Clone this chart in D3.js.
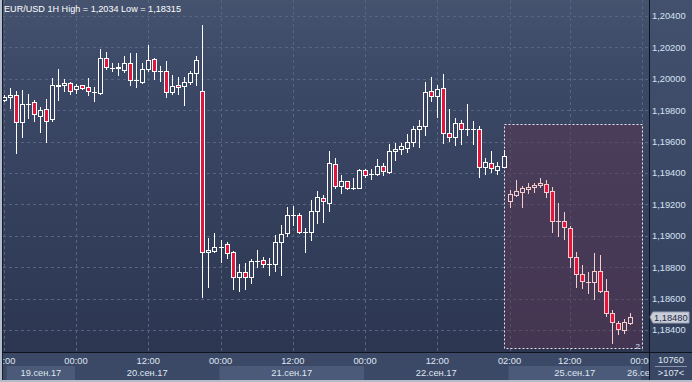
<!DOCTYPE html>
<html>
<head>
<meta charset="utf-8">
<script src="https://cdn.jsdelivr.net/npm/d3@7"></script>
<style>
  body { margin: 0; background: #2e3954; }
  svg { display: block; font-family: "Liberation Sans", Arial, sans-serif; }
</style>
</head>
<body>
<svg id="chart"></svg>
<script>
const W = 692, H = 382;

// hourly candles, first one is 19.09 12:00 (index -12), index 0 = 20.09 00:00
const firstIndex = -12;
const open = [1.19865,1.19882,1.19895,1.19723,1.19838,1.19852,1.19765,1.19806,1.19742,1.19957,1.19959,1.19971,
  1.19933,1.19959,1.19946,1.19916,1.19912,1.20131,1.20071,1.20068,1.20056,1.20099,1.19991,1.19982,
  1.20061,1.20124,1.20048,1.20048,1.19914,1.19959,1.19952,1.19978,1.20035,1.19921,1.18895,1.18905,
  1.18931,1.18946,1.18895,1.18740,1.18768,1.18740,1.18840,1.18846,1.18818,1.18818,1.18959,1.19016,
  1.19131,1.19131,1.19022,1.19022,1.19160,1.19239,1.19211,1.19456,1.19319,1.19347,1.19303,1.19306,
  1.19419,1.19396,1.19396,1.19443,1.19408,1.19540,1.19555,1.19561,1.19596,1.19678,1.19698,1.19921,
  1.19893,1.19940,1.19653,1.19628,1.19717,1.19678,1.19678,1.19678,1.19440,1.19462,1.19422,1.19441,
  1.19224,1.19262,1.19281,1.19300,1.19313,1.19324,1.19328,1.19285,1.19092,1.19092,1.19048,1.18863,
  1.18755,1.18708,1.18708,1.18778,1.18650,1.18510,1.18443,1.18402,1.18447];
const high = [1.19897,1.19940,1.19922,1.19929,1.19903,1.19865,1.19819,1.19871,1.20003,1.20061,1.19997,1.19982,
  1.19967,1.19963,1.20005,1.19950,1.20190,1.20169,1.20103,1.20099,1.20145,1.20163,1.20163,1.20099,
  1.20215,1.20133,1.20082,1.20112,1.20024,1.20010,1.20014,1.20052,1.20145,1.20340,1.18984,1.19016,
  1.18973,1.18959,1.18905,1.18818,1.18825,1.18850,1.18910,1.18863,1.18857,1.19005,1.19069,1.19185,
  1.19190,1.19147,1.19048,1.19228,1.19285,1.19260,1.19540,1.19496,1.19387,1.19351,1.19366,1.19424,
  1.19428,1.19425,1.19489,1.19462,1.19585,1.19589,1.19589,1.19649,1.19701,1.19738,1.19980,1.20012,
  1.19961,1.20031,1.19806,1.19749,1.19738,1.19838,1.19731,1.19699,1.19494,1.19540,1.19468,1.19547,
  1.19292,1.19356,1.19319,1.19334,1.19334,1.19368,1.19356,1.19309,1.19207,1.19154,1.19064,1.18899,
  1.18814,1.18768,1.18889,1.18878,1.18725,1.18527,1.18457,1.18468,1.18506];
const low = [1.19859,1.19816,1.19529,1.19631,1.19752,1.19733,1.19663,1.19599,1.19733,1.19865,1.19922,1.19903,
  1.19912,1.19933,1.19899,1.19861,1.19903,1.20061,1.20052,1.20024,1.20045,1.19963,1.19950,1.19971,
  1.20052,1.20001,1.19988,1.19886,1.19905,1.19905,1.19835,1.19967,1.19961,1.18608,1.18676,1.18895,
  1.18835,1.18857,1.18659,1.18650,1.18659,1.18697,1.18799,1.18803,1.18750,1.18778,1.18750,1.18999,
  1.19069,1.19016,1.18899,1.18973,1.19080,1.19090,1.19160,1.19305,1.19275,1.19300,1.19300,1.19303,
  1.19373,1.19362,1.19387,1.19387,1.19398,1.19483,1.19521,1.19534,1.19574,1.19568,1.19644,1.19861,
  1.19759,1.19589,1.19606,1.19578,1.19585,1.19642,1.19585,1.19373,1.19394,1.19406,1.19394,1.19440,
  1.19185,1.19254,1.19185,1.19275,1.19281,1.19313,1.19249,1.19026,1.19001,1.18978,1.18799,1.18676,
  1.18666,1.18638,1.18599,1.18644,1.18491,1.18315,1.18373,1.18383,1.18440];
const close = [1.19887,1.19895,1.19723,1.19838,1.19842,1.19774,1.19801,1.19733,1.19959,1.19959,1.19971,1.19924,
  1.19952,1.19940,1.19921,1.19916,1.20131,1.20075,1.20071,1.20073,1.20099,1.19991,1.19991,1.20061,
  1.20118,1.20048,1.20048,1.19914,1.19952,1.19946,1.19980,1.20035,1.20118,1.18895,1.18910,1.18927,
  1.18931,1.18889,1.18740,1.18768,1.18740,1.18838,1.18840,1.18818,1.18818,1.18959,1.19010,1.19131,
  1.19131,1.19022,1.19022,1.19156,1.19245,1.19219,1.19462,1.19320,1.19347,1.19303,1.19303,1.19419,
  1.19389,1.19396,1.19443,1.19411,1.19540,1.19553,1.19572,1.19598,1.19678,1.19698,1.19914,1.19893,
  1.19933,1.19653,1.19631,1.19717,1.19678,1.19678,1.19678,1.19440,1.19468,1.19429,1.19443,1.19506,
  1.19264,1.19284,1.19303,1.19311,1.19322,1.19336,1.19277,1.19092,1.19092,1.19054,1.18863,1.18755,
  1.18710,1.18708,1.18778,1.18650,1.18506,1.18449,1.18404,1.18449,1.18480];

const priceTicks = [1.184, 1.186, 1.188, 1.190, 1.192, 1.194, 1.196, 1.198, 1.200, 1.202, 1.204];
const timeTickIdx = [-12, 0, 12, 24, 36, 48, 60, 72, 82, 94];
const timeTickLabels = ["12:00", "00:00", "12:00", "00:00", "12:00", "00:00", "12:00", "02:00", "12:00", "00:00"];
const dayStartIdx = [-11.5, 0, 24, 48, 72, 94];
const dayLabels = ["19.сен.17", "20.сен.17", "21.сен.17", "22.сен.17", "25.сен.17", "26.сен.17"];
const selFrom = 71, selTo = 94, selHigh = 1.19709, selLow = 1.18285;
const lastPrice = 1.18480;
const title = "EUR/USD 1H High = 1,2034 Low = 1,18315";
const cornerTop = "10760", cornerBottom = ">107<";

const plot = {left: 3, right: 649, top: 0, bottom: 352};

const x = d3.scaleLinear().domain([0, 94]).range([76, 642]);
const y = d3.scaleLinear().domain([1.184, 1.204]).range([330, 16]);
const fmt = v => d3.format(".5f")(v).replace(".", ",");

const svg = d3.select("#chart").attr("width", W).attr("height", H);
const defs = svg.append("defs");

const g1 = defs.append("linearGradient").attr("id", "bg").attr("x1", 0).attr("x2", 0).attr("y1", 0).attr("y2", 1);
g1.append("stop").attr("offset", 0).attr("stop-color", "#45536f");
g1.append("stop").attr("offset", 0.2).attr("stop-color", "#3c4967");
g1.append("stop").attr("offset", 1).attr("stop-color", "#2c3651");

const g2 = defs.append("linearGradient").attr("id", "axbg").attr("x1", 0).attr("x2", 0).attr("y1", 0).attr("y2", 1);
g2.append("stop").attr("offset", 0).attr("stop-color", "#43516e");
g2.append("stop").attr("offset", 1).attr("stop-color", "#33405c");

defs.append("clipPath").attr("id", "plotclip").append("rect")
  .attr("x", plot.left).attr("y", plot.top)
  .attr("width", plot.right - plot.left).attr("height", plot.bottom - plot.top);
defs.append("clipPath").attr("id", "axclip").append("rect")
  .attr("x", plot.left).attr("y", plot.bottom)
  .attr("width", plot.right - plot.left).attr("height", 30);

// frame
svg.append("rect").attr("width", W).attr("height", H).attr("fill", "#b4bcc9");
svg.append("rect").attr("x", 2).attr("y", 0).attr("width", W - 2).attr("height", 380).attr("fill", "#161d2c");

// plot background
svg.append("rect").attr("x", plot.left).attr("y", plot.top)
  .attr("width", plot.right - plot.left).attr("height", plot.bottom - plot.top)
  .attr("fill", "url(#bg)");

// right axis background
svg.append("rect").attr("x", plot.right + 1).attr("y", 0)
  .attr("width", W - plot.right - 1).attr("height", plot.bottom)
  .attr("fill", "url(#axbg)");

// bottom axis background
svg.append("rect").attr("x", plot.left).attr("y", plot.bottom + 1)
  .attr("width", plot.right - plot.left).attr("height", 380 - plot.bottom - 1)
  .attr("fill", "#3c4966");
svg.append("rect").attr("x", plot.right + 1).attr("y", plot.bottom + 1)
  .attr("width", W - plot.right - 1).attr("height", 380 - plot.bottom - 1)
  .attr("fill", "#3a4764");

const P = svg.append("g").attr("clip-path", "url(#plotclip)");

// grid
P.selectAll(".hg").data(priceTicks).enter().append("line")
  .attr("x1", plot.left).attr("x2", plot.right)
  .attr("y1", d => Math.round(y(d)) + 0.5).attr("y2", d => Math.round(y(d)) + 0.5)
  .attr("stroke", "#586582").attr("stroke-dasharray", "3,3");
P.selectAll(".vg").data(timeTickIdx).enter().append("line")
  .attr("x1", d => Math.round(x(d)) + 0.5).attr("x2", d => Math.round(x(d)) + 0.5)
  .attr("y1", plot.top).attr("y2", plot.bottom)
  .attr("stroke", "#586582").attr("stroke-dasharray", "3,3");

// selection box
P.append("rect")
  .attr("x", Math.round(x(selFrom)) + 0.5).attr("y", Math.round(y(selHigh)) + 0.5)
  .attr("width", Math.round(x(selTo)) - Math.round(x(selFrom)))
  .attr("height", Math.round(y(selLow)) - Math.round(y(selHigh)))
  .attr("fill", "#5b3652").attr("fill-opacity", 0.5)
  .attr("stroke", "#e8e8f0").attr("stroke-dasharray", "2,2");
P.append("text").attr("x", Math.round(x(selTo)) - 2).attr("y", Math.round(y(selLow)) + 1)
  .attr("text-anchor", "end").attr("font-size", 8).attr("fill", "#cfe0ff").text("2");

// candles
const candles = open.map((o, j) => ({i: firstIndex + j, o: o, h: high[j], l: low[j], c: close[j]}));
const cg = P.selectAll(".candle").data(candles).enter().append("g");
cg.each(function(d) {
  const g = d3.select(this);
  const cx = Math.round(x(d.i));
  const sel = d.i > selFrom;
  const lineCol = sel ? "#f6cccc" : "#ffffff";
  const up = d.c >= d.o;
  const yt = Math.round(y(Math.max(d.o, d.c)));
  const yb = Math.round(y(Math.min(d.o, d.c)));
  g.append("line").attr("x1", cx + 0.5).attr("x2", cx + 0.5)
    .attr("y1", Math.round(y(d.h))).attr("y2", Math.round(y(d.l)) + 1)
    .attr("stroke", lineCol);
  if (yb - yt < 1) {
    g.append("line").attr("x1", cx - 2).attr("x2", cx + 3)
      .attr("y1", yt + 0.5).attr("y2", yt + 0.5).attr("stroke", lineCol);
  } else {
    g.append("rect").attr("x", cx - 1.5).attr("y", yt + 0.5)
      .attr("width", 4).attr("height", yb - yt)
      .attr("fill", up ? (sel ? "#4b3b56" : "#36425f") : "#e0163c")
      .attr("stroke", lineCol);
  }
});

// borders
svg.append("line").attr("x1", plot.left).attr("x2", W).attr("y1", plot.bottom + 0.5).attr("y2", plot.bottom + 0.5)
  .attr("stroke", "#0e131d");
svg.append("line").attr("x1", plot.right + 0.5).attr("x2", plot.right + 0.5).attr("y1", 0).attr("y2", 380)
  .attr("stroke", "#0e131d");

// title
svg.append("text").attr("x", 4).attr("y", 12).attr("font-size", 9.3)
  .attr("textLength", 177).attr("lengthAdjust", "spacingAndGlyphs")
  .attr("fill", "#ffffff").text(title);

// right axis labels
svg.selectAll(".yl").data(priceTicks).enter().append("text")
  .attr("x", 652).attr("y", d => y(d) + 3.4)
  .attr("font-size", 9.3).attr("fill", "#d6e2f4").text(d => fmt(d));

// last price marker
const ly = Math.round(y(lastPrice));
svg.append("path")
  .attr("d", `M650,${ly} L653,${ly - 5} L689,${ly - 5} L689,${ly + 6} L653,${ly + 6} Z`)
  .attr("fill", "#c9ced8").attr("stroke", "#9aa3b3");
svg.append("text").attr("x", 654).attr("y", ly + 4)
  .attr("font-size", 9.3).attr("fill", "#1f2a45").text(fmt(lastPrice));

// bottom axis
const A = svg.append("g").attr("clip-path", "url(#axclip)");
const dayEnds = dayStartIdx.slice(1).map(d => x(d) - 1).concat([x(94) + 12]);
dayStartIdx.forEach((d, k) => {
  const x0 = k === 0 ? x(d) : x(d) - 1;
  if (k % 2 === 0) {
    A.append("rect").attr("x", x0).attr("y", 366).attr("width", dayEnds[k] - x0).attr("height", 14)
      .attr("fill", "#4b5a78");
  }
  A.append("text").attr("x", (x0 + dayEnds[k]) / 2).attr("y", 375.5)
    .attr("text-anchor", "middle").attr("font-size", 9.3).attr("fill", "#dfe6f2").text(dayLabels[k]);
});
A.selectAll(".xl").data(timeTickIdx).enter().append("text")
  .attr("x", d => x(d)).attr("y", 363.5).attr("text-anchor", "middle")
  .attr("font-size", 9.3).attr("fill", "#dfe6f2").text((d, k) => timeTickLabels[k]);

// corner
svg.append("text").attr("x", 671).attr("y", 363).attr("text-anchor", "middle")
  .attr("font-size", 9.3).attr("fill", "#dfe6f2").text(cornerTop);
svg.append("line").attr("x1", 655).attr("x2", 687).attr("y1", 366.5).attr("y2", 366.5).attr("stroke", "#8393ad");
svg.append("text").attr("x", 671).attr("y", 375.5).attr("text-anchor", "middle")
  .attr("font-size", 9.3).attr("fill", "#dfe6f2").text(cornerBottom);
</script>
</body>
</html>
